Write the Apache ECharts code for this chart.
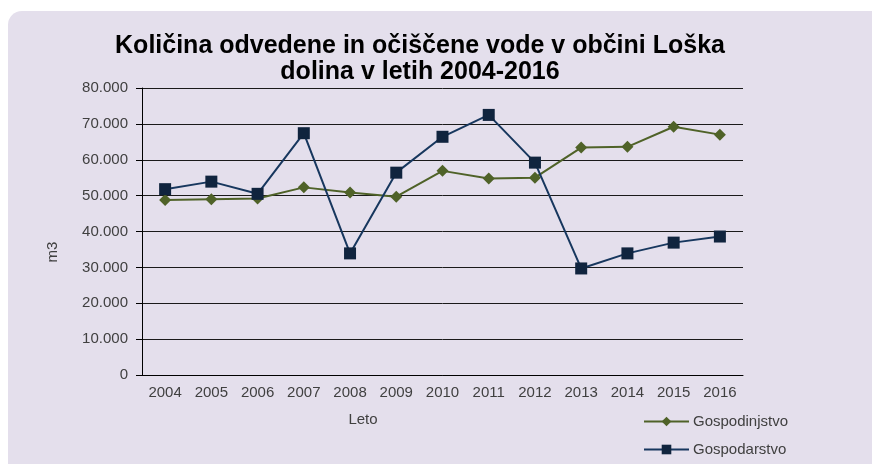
<!DOCTYPE html>
<html>
<head>
    <meta charset="utf-8">
    <title>Količina odvedene in očiščene vode</title>
    <script src="https://cdn.jsdelivr.net/npm/echarts@6/dist/echarts.min.js"></script>
    <style>
        html, body { margin: 0; padding: 0; background: #fff; }
        #chart1 { width: 872px; height: 464px; }
    </style>
</head>
<body>
<div id="chart1"></div>
<script type="text/javascript">
    // leta na osi x
    var years = ['2004','2005','2006','2007','2008','2009','2010','2011','2012','2013','2014','2015','2016'];
    // količine v m3 (odčitano z grafa)
    var gospodinjstvo = [48800, 49000, 49200, 52300, 50900, 49700, 56900, 54800, 55000, 63400, 63600, 69200, 67000];
    var gospodarstvo = [51800, 53900, 50500, 67400, 33900, 56400, 66400, 72500, 59200, 29700, 33900, 36900, 38600];
    var seriesNames = ['Gospodinjstvo', 'Gospodarstvo'];

    var font = 'Liberation Sans, Arial, sans-serif';
    var myChart1 = echarts.init(document.getElementById('chart1'));

    myChart1.setOption({
        backgroundColor: '#ffffff',
        animation: false,
        title: {
            text: 'Količina odvedene in očiščene vode v občini Loška\ndolina v letih 2004-2016',
            left: 420,
            textAlign: 'center',
            top: 33,
            padding: 0,
            textStyle: {
                fontFamily: font,
                fontSize: 25,
                fontWeight: 'bold',
                color: '#000',
                lineHeight: 26
            }
        },
        graphic: [
            {
                type: 'rect', z: -10, silent: true,
                shape: { x: 8, y: 11, width: 880, height: 470, r: 14 },
                style: { fill: '#e4dfec' }
            },
            {
                type: 'text', x: 363, y: 420,
                style: { text: 'Leto', fontFamily: font, fontSize: 15, fill: '#404040', align: 'center', verticalAlign: 'middle' }
            },
            {
                type: 'text', x: 53, y: 252, rotation: Math.PI / 2,
                style: { text: 'm3', fontFamily: font, fontSize: 15, fill: '#404040', align: 'center', verticalAlign: 'middle' }
            }
        ],
        legend: {
            orient: 'vertical',
            left: 643,
            top: 414,
            height: 60,
            padding: 0,
            itemWidth: 45,
            itemHeight: 12,
            itemGap: 13,
            data: seriesNames,
            textStyle: { fontFamily: font, fontSize: 15, color: '#404040', padding: [0, 0, 0, -1] }
        },
        grid: { left: 142, right: 129, top: 88, bottom: 89 },
        xAxis: {
            type: 'category',
            data: years,
            boundaryGap: true,
            axisLine: { lineStyle: { color: '#000', width: 1 } },
            axisTick: { length: 6, lineStyle: { color: '#000' } },
            axisLabel: { fontFamily: font, fontSize: 15, color: '#404040', margin: 10 }
        },
        yAxis: {
            type: 'value',
            min: 0,
            max: 80000,
            interval: 10000,
            axisLine: { show: true, lineStyle: { color: '#000', width: 1 } },
            axisTick: { show: true, length: 6, lineStyle: { color: '#000' } },
            axisLabel: {
                fontFamily: font, fontSize: 15, color: '#404040', margin: 14,
                formatter: function (v) { return v === 0 ? '0' : (v / 1000) + '.000'; }
            },
            splitLine: { lineStyle: { color: '#1a1a1a', width: 1 } }
        },
        series: [
            {
                name: seriesNames[0],
                type: 'line',
                data: gospodinjstvo,
                symbol: 'diamond',
                symbolSize: 12,
                itemStyle: { color: '#4f6228' },
                lineStyle: { color: '#4f6228', width: 2 },
                z: 3
            },
            {
                name: seriesNames[1],
                type: 'line',
                data: gospodarstvo,
                symbol: 'rect',
                symbolSize: 12,
                itemStyle: { color: '#10243e' },
                lineStyle: { color: '#17375e', width: 2 },
                z: 4
            }
        ]
    });
</script>
</body>
</html>
